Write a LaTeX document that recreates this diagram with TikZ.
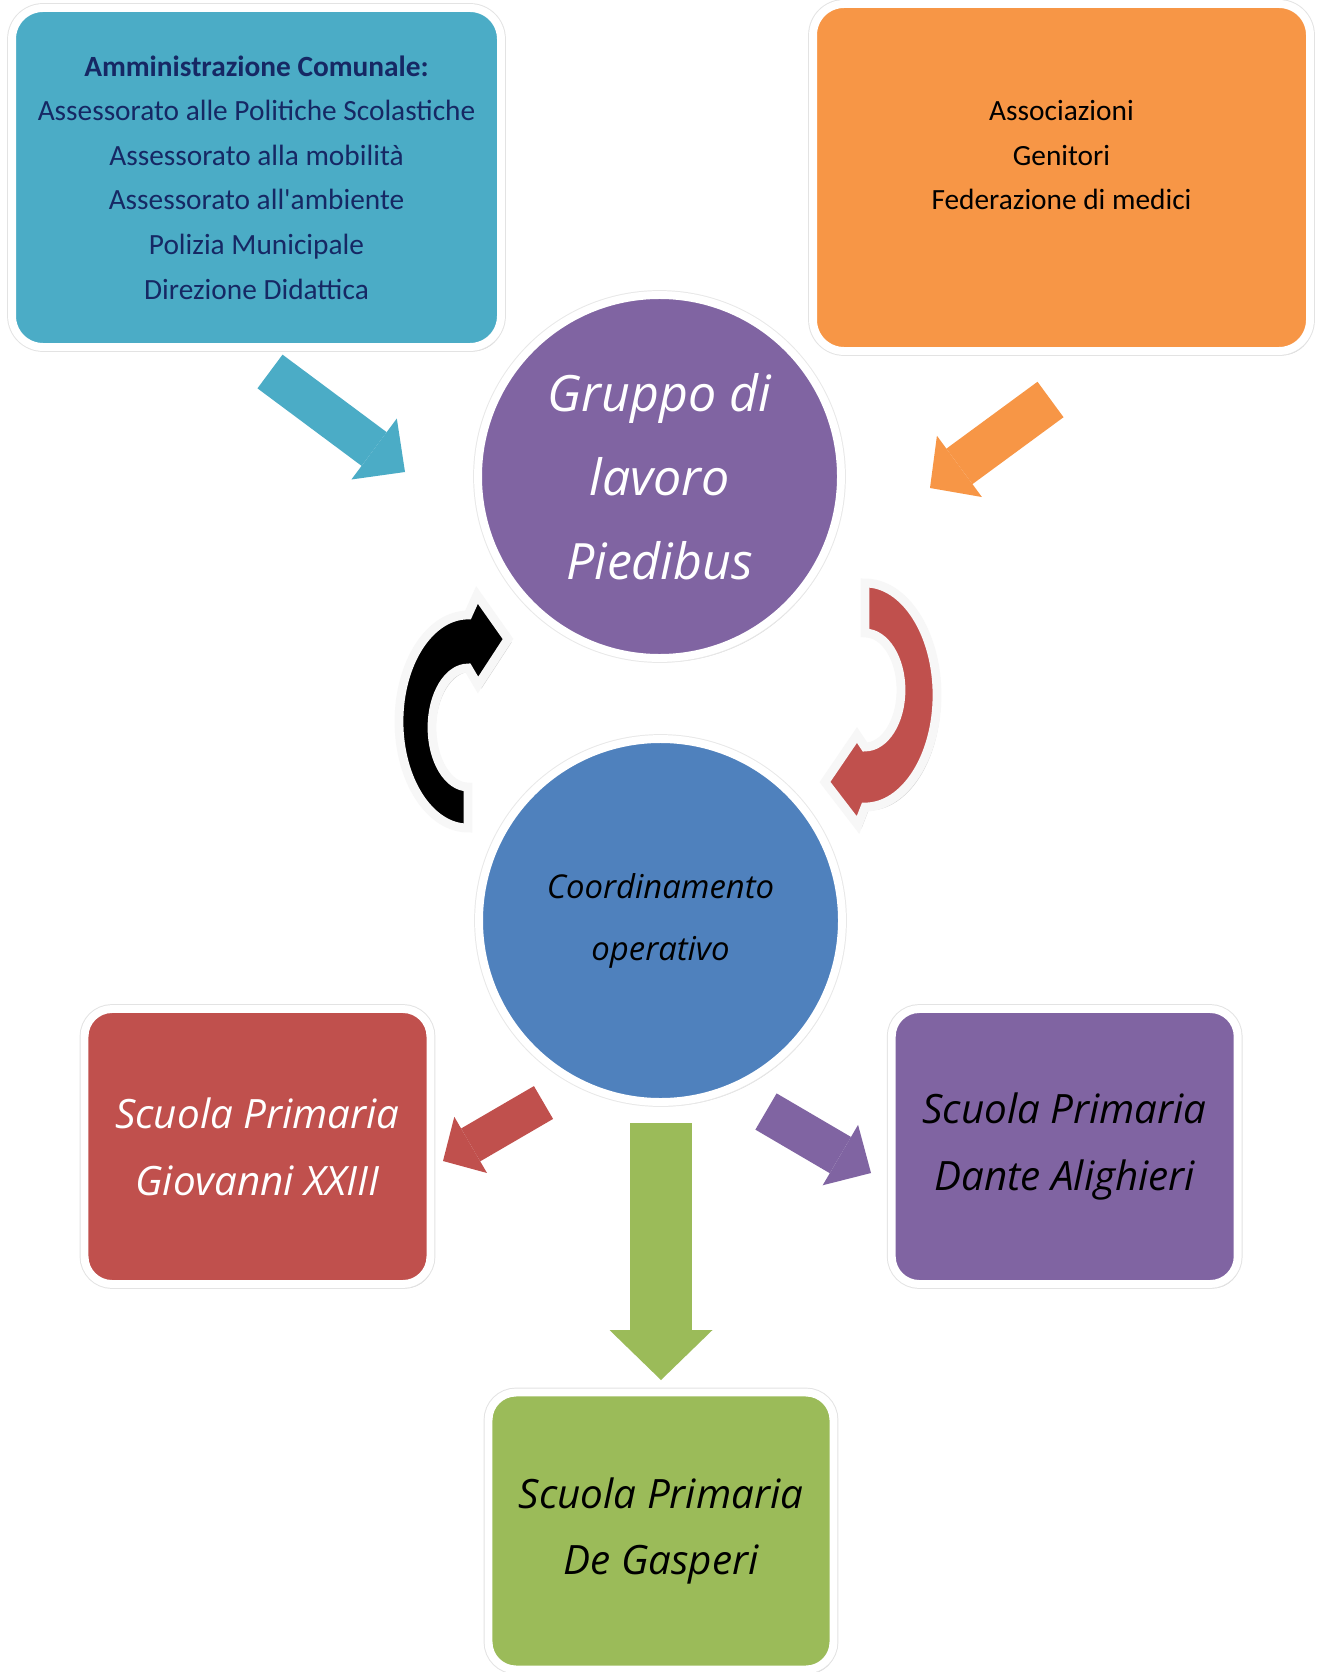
\documentclass[tikz,border=0pt]{standalone}
\usepackage{fontspec}
\setmainfont{Carlito}
\newfontfamily\handfont{Open Sans}
\usetikzlibrary{arrows.meta,shadows,positioning}

\definecolor{comblue}{HTML}{4BACC6}
\definecolor{comtext}{RGB}{22,40,100}
\definecolor{assorange}{HTML}{F79646}
\definecolor{grppurple}{HTML}{8064A2}
\definecolor{coordblue}{HTML}{4F81BD}
\definecolor{schred}{HTML}{C0504D}
\definecolor{schgreen}{HTML}{9BBB59}

\tikzstyle{roundbox} = [rectangle, rounded corners=0.62cm, draw=white, line width=4.5pt, align=center, inner sep=0pt, drop shadow={opacity=0.35, shadow xshift=1.5pt, shadow yshift=-2.5pt}, preaction={draw=gray!22, line width=5.6pt}]
\tikzstyle{bigcircle} = [circle, minimum size=7.26cm, draw=white, line width=4.5pt, align=center, inner sep=0pt, drop shadow={opacity=0.3, shadow xshift=1.5pt, shadow yshift=-2.5pt}, preaction={draw=gray!18, line width=5.6pt}]
\tikzstyle{boxtext} = [font=\fontsize{16.7}{25.4}\selectfont]
\tikzstyle{grouptext} = [font=\handfont\itshape\fontsize{28.5}{47.8}\selectfont]
\tikzstyle{coordtext} = [font=\handfont\itshape\fontsize{18.7}{35.3}\selectfont]
\tikzstyle{schooltext} = [font=\handfont\itshape\fontsize{23}{38}\selectfont]
\tikzstyle{turnarrow} = [draw=gray!6, line width=5pt, line join=miter, drop shadow={opacity=0.35, shadow xshift=2pt, shadow yshift=-2pt}]
\tikzset{fatarrow/.style n args={3}{line width=#1, -{Triangle[width=#2, length=#3, line width=0pt]}}}

\begin{document}
\begin{tikzpicture}[x=0.02cm, y=-0.02cm]
    \fill[white] (0,0) rectangle (1318,1672);
    \useasboundingbox (0,0) rectangle (1318,1672);

    % boxes and circles
    \node (comune) [roundbox, boxtext, fill=comblue, text=comtext, minimum width=9.78cm, minimum height=6.78cm] at (256.5,177.5)
        {\textbf{Amministrazione Comunale:}\\Assessorato alle Politiche Scolastiche\\Assessorato alla mobilit\`a\\Assessorato all\textquotesingle ambiente\\Polizia Municipale\\Direzione Didattica};
    \node (assoc) [roundbox, boxtext, fill=assorange, minimum width=9.94cm, minimum height=6.94cm] at (1061.5,177.5)
        {Associazioni\\Genitori\\Federazione di medici\\ \mbox{}};
    \node (gruppo) [bigcircle, grouptext, fill=grppurple, text=white] at (659.5,476.5) {Gruppo di\\lavoro\\Piedibus};
    \node (coord) [bigcircle, coordtext, fill=coordblue] at (660.5,920.5) {Coordinamento\\operativo};
    \node (giovanni) [roundbox, schooltext, rounded corners=0.55cm, fill=schred, text=white, minimum width=6.92cm, minimum height=5.5cm] at (257.5,1146.5)
        {Scuola Primaria\\Giovanni XXIII};
    \node (dante) [roundbox, schooltext, rounded corners=0.55cm, fill=grppurple, minimum width=6.92cm, minimum height=5.5cm] at (1064.7,1146.5)
        {Scuola Primaria\\Dante Alighieri};
    \node (gasperi) [roundbox, schooltext, rounded corners=0.55cm, fill=schgreen, minimum width=6.9cm, minimum height=5.54cm] at (661,1531)
        {Scuola Primaria\\De Gasperi};

    % block arrows
    \coordinate (comtail) at (270,371.5);
    \coordinate (comtip) at (405,472);
    \coordinate (asstail) at (1050.5,399.5);
    \coordinate (asstip) at (930,488);
    \coordinate (giotail) at (543.5,1102.5);
    \coordinate (giotip) at (443,1161);
    \coordinate (dantail) at (766,1111.5);
    \coordinate (dantip) at (871,1173);
    \coordinate (gastail) at (661,1123);
    \coordinate (gastip) at (661,1380);

    \draw [fatarrow={0.84cm}{1.52cm}{0.77cm}, comblue] (comtail) -- (comtip);
    \draw [fatarrow={0.88cm}{1.52cm}{0.73cm}, assorange] (asstail) -- (asstip);
    \draw [fatarrow={0.76cm}{1.30cm}{0.64cm}, schred] (giotail) -- (giotip);
    \draw [fatarrow={0.84cm}{1.40cm}{0.71cm}, grppurple] (dantail) -- (dantip);
    \draw [fatarrow={1.24cm}{2.06cm}{1.00cm}, schgreen] (gastail) -- (gastip);

    % circular arrows
    \filldraw [turnarrow, fill=black] (468,828) arc[start angle=90, end angle=270, x radius=69, y radius=106.5]
        -- (477,595) -- (508,639) -- (478,685) -- (468,668)
        arc[start angle=270, end angle=90, x radius=36, y radius=59.5] -- cycle;
    \filldraw [turnarrow, fill=schred] (865,583) arc[start angle=270, end angle=450, x radius=72, y radius=112]
        -- (858,825) -- (825,782) -- (857,735) -- (865,747)
        arc[start angle=90, end angle=-90, x radius=36, y radius=57] -- cycle;
\end{tikzpicture}
\end{document}
